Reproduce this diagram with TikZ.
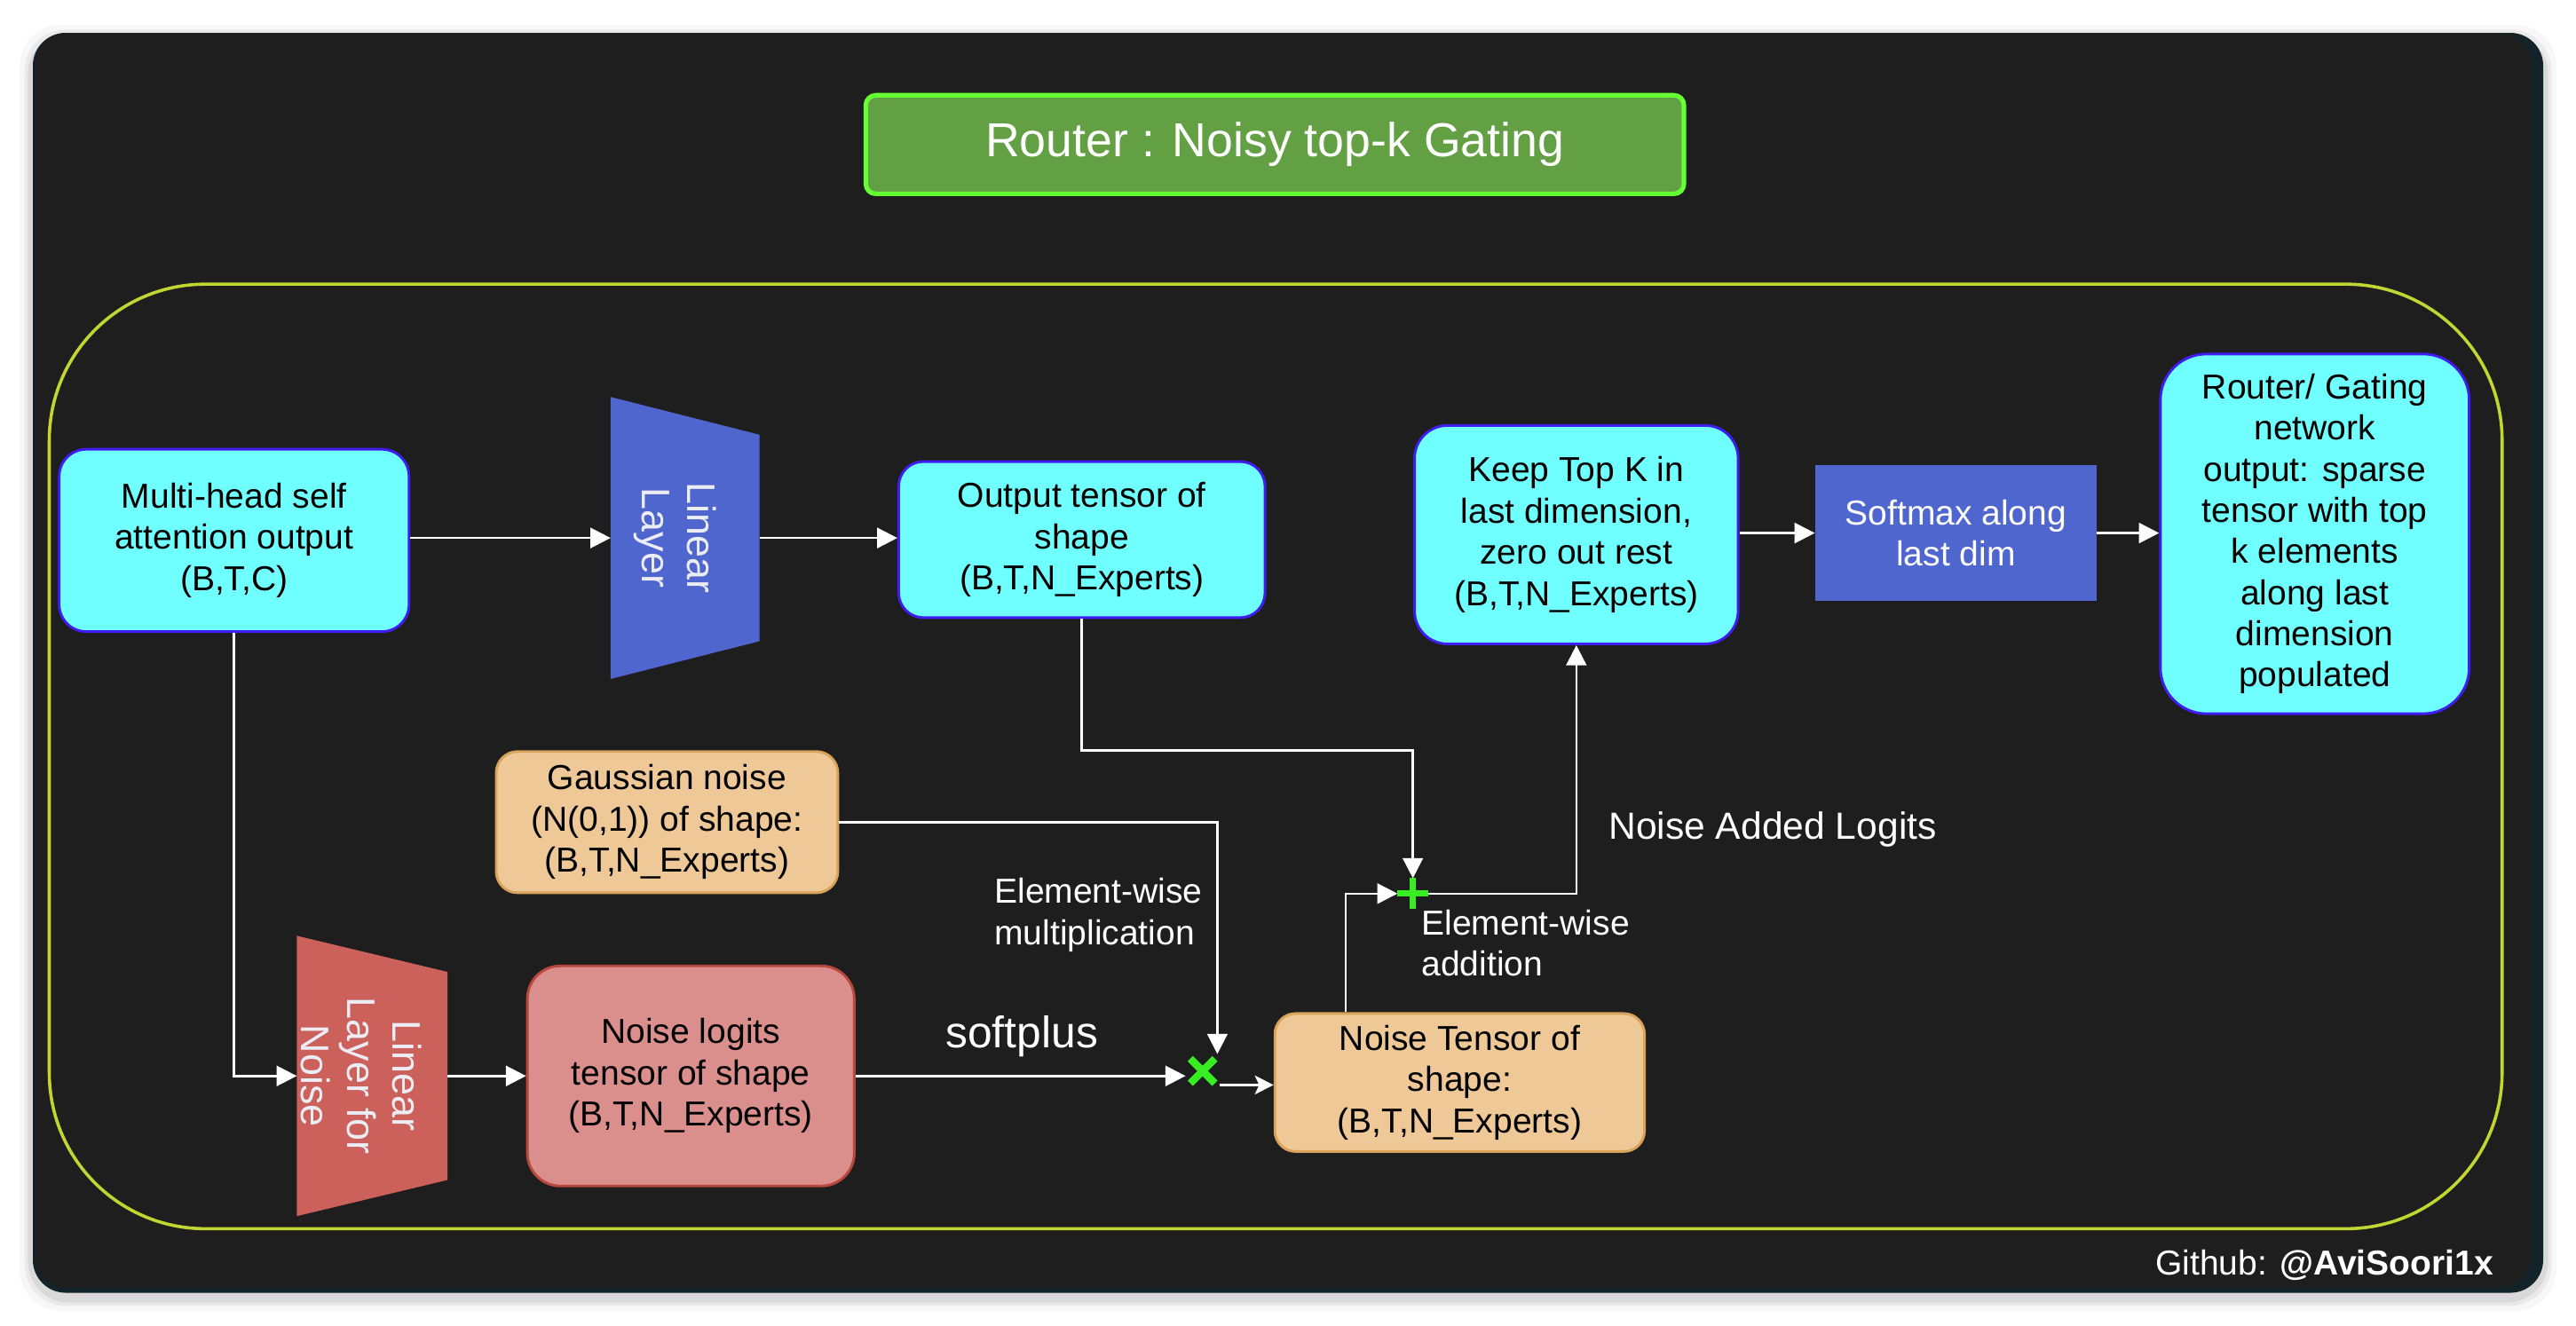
\documentclass[tikz,border=0pt]{standalone}
\usepackage{fontspec}
\setmainfont{Liberation Sans}
\usetikzlibrary{arrows.meta,calc}
\definecolor{panel}{HTML}{1E1E1E}
\definecolor{panelteal}{HTML}{12232A}
\definecolor{frame}{HTML}{C2D632}
\definecolor{titlefill}{HTML}{62A043}
\definecolor{titleedge}{HTML}{66FF33}
\definecolor{cyanfill}{HTML}{6FFFFF}
\definecolor{cyanedge}{HTML}{3F1CF0}
\definecolor{bluefill}{HTML}{5066CF}
\definecolor{peach}{HTML}{EFC897}
\definecolor{peachedge}{HTML}{D9A35A}
\definecolor{pinkfill}{HTML}{DA8F8D}
\definecolor{pinkedge}{HTML}{B8483E}
\definecolor{redfill}{HTML}{CC615B}
\definecolor{markgreen}{HTML}{38EE22}
\definecolor{lighttext}{HTML}{ECECF4}
\begin{document}
\begin{tikzpicture}[x=0.02cm,y=-0.02cm,
  body/.style={font=\fontsize{12}{14.3}\selectfont},
  box/.style={body, draw=cyanedge, fill=cyanfill, line width=0.9pt, align=center, inner sep=0pt, text=black},
  peachbox/.style={body, draw=peachedge, fill=peach, line width=0.9pt, align=center, inner sep=0pt, text=black},
  pinkbox/.style={body, draw=pinkedge, fill=pinkfill, line width=0.9pt, align=center, inner sep=0pt, text=black},
  trap/.style={inner sep=0pt, minimum width=1.8cm},
  traptext/.style={rotate=-90, align=center, text=lighttext, font=\fontsize{13.8}{15.8}\selectfont, inner sep=0pt},
  arr/.style={draw=white, line width=0.8pt, -{Triangle[length=7pt,width=7pt]}},
  arrb/.style={draw=white, line width=0.8pt, -{Stealth[length=6.5pt,width=6.5pt,inset=1.5pt]}},
  lbl/.style={text=white, inner sep=0pt},
  opmark/.style={draw=markgreen, line width=2.6pt}
]
% background and panel
\fill[white] (0,0) rectangle (1568,807);
\foreach \d/\o in {8/0.03,5/0.05,3/0.07}{
  \fill[black, opacity=\o, rounded corners=0.5cm] (20-\d,20-\d+3) rectangle (1548+\d,787+\d+3);
}
\fill[panelteal, rounded corners=0.4cm] (20,20) rectangle (1548,787);
\fill[panel, rounded corners=0.4cm] (21,20) rectangle (1541,784);

% title
\node[draw=titleedge, fill=titlefill, line width=1.6pt, rounded corners=0.12cm,
      minimum width=9.96cm, minimum height=1.2cm, inner sep=0pt,
      text=white, font=\fontsize{16.5}{20}\selectfont] (title) at (776,88) {Router : Noisy top-k Gating};

% container frame
\draw[frame, line width=1.1pt, rounded corners=1.9cm] (30,173) rectangle (1523,748);

% nodes
\node[box, rounded corners=0.33cm, minimum width=4.26cm, minimum height=2.22cm] (mhsa) at (142.5,329)
  {Multi-head self\\attention output\\(B,T,C)};
\node[trap, minimum height=3.42cm] (lin) at (417,327.5) {};
\fill[bluefill] (lin.north west) -- ([yshift=-0.46cm]lin.north east) -- ([yshift=0.46cm]lin.south east) -- (lin.south west) -- cycle;
\node[traptext] (linT) at (411,327.5) {Linear\\Layer};

\node[box, rounded corners=0.3cm, minimum width=4.46cm, minimum height=1.9cm] (out) at (658.5,328.5)
  {Output tensor of\\shape\\(B,T,N\_Experts)};
\node[box, rounded corners=0.4cm, minimum width=3.94cm, minimum height=2.66cm] (keep) at (959.5,325.5)
  {Keep Top K in\\last dimension,\\zero out rest\\(B,T,N\_Experts)};
\node[body, fill=bluefill, align=center, inner sep=0pt, text=white, minimum width=3.42cm, minimum height=1.66cm] (soft) at (1190.5,324.5)
  {Softmax along\\last dim};
\node[box, rounded corners=0.56cm, minimum width=3.76cm, minimum height=4.38cm, font=\fontsize{12}{14.25}\selectfont] (rout) at (1409,325)
  {Router/ Gating\\network\\output: sparse\\tensor with top\\k elements\\along last\\dimension\\populated};

\node[peachbox, rounded corners=0.26cm, minimum width=4.16cm, minimum height=1.72cm] (gauss) at (406,500.5)
  {Gaussian noise\\(N(0,1)) of shape:\\(B,T,N\_Experts)};

\node[trap, minimum width=1.82cm, minimum height=3.4cm] (linN) at (226.5,655) {};
\fill[redfill] (linN.north west) -- ([yshift=-0.44cm]linN.north east) -- ([yshift=0.44cm]linN.south east) -- (linN.south west) -- cycle;
\node[traptext] (linNT) at (220,655) {Linear\\Layer for\\Noise};

\node[pinkbox, rounded corners=0.4cm, minimum width=3.98cm, minimum height=2.68cm] (nlog) at (420.5,655)
  {Noise logits\\tensor of shape\\(B,T,N\_Experts)};
\node[peachbox, rounded corners=0.25cm, minimum width=4.5cm, minimum height=1.68cm] (ntens) at (888.5,659)
  {Noise Tensor of\\shape:\\(B,T,N\_Experts)};

% operators
\node[inner sep=0pt, minimum size=0.4cm] (mul) at (732,652) {};
\draw[opmark] ([shift={(-0.15cm,0.15cm)}]mul.center) -- ([shift={(0.15cm,-0.15cm)}]mul.center);
\draw[opmark] ([shift={(-0.15cm,-0.15cm)}]mul.center) -- ([shift={(0.15cm,0.15cm)}]mul.center);
\node[inner sep=0pt, minimum size=0.36cm] (add) at (860,544) {};
\draw[opmark, line width=2.2pt] ([yshift=0.19cm]add.center) -- ([yshift=-0.19cm]add.center);
\draw[opmark, line width=2.2pt] ([xshift=-0.19cm]add.center) -- ([xshift=0.19cm]add.center);

% connectors
\draw[arr] (lin.west -| mhsa.east) -- (lin.west);
\draw[arr] (lin.east) -- (lin.east -| out.west);
\draw[arr] (mhsa.south) |- (linN.west);
\draw[arr] (linN.east) -- (linN.east -| nlog.west);
\draw[arr] (nlog.east) -- (nlog.east -| mul.west);
\draw[arr] (gauss.east) -| ([xshift=0.18cm]mul.north);
\draw[arrb] ([yshift=-0.17cm]mul.east) coordinate (mulout) -- (mulout -| ntens.west);
\draw[arr] (out.south) -- ++(0,80) -| (add.north);
\draw[arr] ([xshift=-1.39cm]ntens.north) |- (add.west);
\draw[arr] (add.east) -| (keep.south);
\draw[arr] (soft.west -| keep.east) -- (soft.west);
\draw[arr] (soft.east) -- (soft.east -| rout.west);

% labels
\node[lbl, font=\fontsize{15.3}{18}\selectfont] (sp) at (622,631) {softplus};
\node[lbl, body, anchor=west, align=left] (ewm) at (605,557) {Element-wise\\multiplication};
\node[lbl, body, anchor=west, align=left] (ewa) at (865,574) {Element-wise\\addition};
\node[lbl, font=\fontsize{13.1}{15}\selectfont] (nal) at (1079,505) {Noise Added Logits};
\node[lbl, body, anchor=east] (gh) at (1518,770) {Github: \textbf{@AviSoori1x}};
\end{tikzpicture}
\end{document}
